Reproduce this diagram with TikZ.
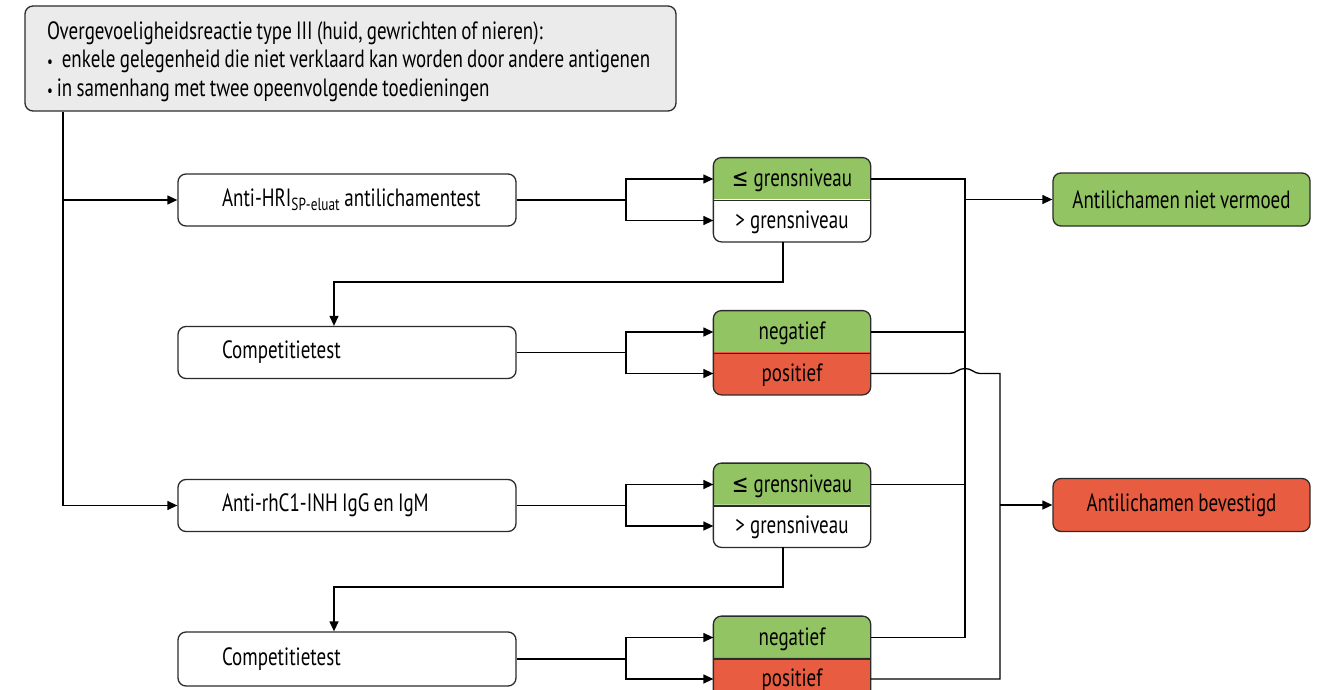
\documentclass[tikz,border=0pt]{standalone}
\usepackage{fontspec}
\setmainfont{PT Sans}[FakeStretch=0.76]
\newfontfamily\symf{DejaVu Sans}[FakeStretch=0.8]
\usetikzlibrary{arrows.meta,calc}
\definecolor{okgreen}{HTML}{92C463}
\definecolor{badred}{HTML}{E85D41}
\definecolor{topgray}{HTML}{EBEBEB}
\definecolor{edge}{HTML}{2B2B2B}
\newcommand{\fs}[2]{\fontsize{#1}{#2}\selectfont\spaceskip=0.17em\relax}
\newcommand{\ws}{\spaceskip=0.17em\relax\xspaceskip=0.2em\relax}
\begin{document}
\begin{tikzpicture}[x=1pt,y=-1pt,
  line width=1.3pt,
  conn/.style={draw=black},
  arr/.style={draw=black,-{Triangle[length=10pt,width=9pt]}},
  mainbox/.style={draw=edge,rounded corners=8pt,minimum height=52pt,text width=250pt,inner xsep=44pt,inner ysep=0pt,align=left,font=\fs{25}{28}},
  part/.style={minimum width=156pt,minimum height=41.5pt,inner sep=0pt,font=\fs{25}{28}},
  parttext/.style={part,yshift=-1.5pt},
  result/.style={draw=edge,rounded corners=8pt,minimum width=257pt,minimum height=53pt,inner sep=0pt,font=\fs{25}{28}}
]
\useasboundingbox (0,0) rectangle (1332,690);
\clip (0,0) rectangle (1332,690);

% top box
\node[draw=edge,fill=topgray,rounded corners=8pt,text width=607pt,inner xsep=22pt,minimum height=105pt,align=left,font=\fs{25}{28.5}] (top) at (350.5,58.5)
 {\ws\mbox{\rule{0pt}{24pt}Overgevoeligheidsreactie type III (huid, gewrichten of nieren):}\\
  \ws\mbox{{\fontsize{17}{20}\selectfont\textbullet}\hspace{9pt}enkele gelegenheid die niet verklaard kan worden door andere antigenen}\\
  \ws\mbox{{\fontsize{17}{20}\selectfont\textbullet}\hspace{4pt}in samenhang met twee opeenvolgende toedieningen}};

% main boxes
\node[mainbox] (b1) at (347,200) {\ws\mbox{Anti-HRI\textsubscript{SP-eluat} antilichamentest}};
\node[mainbox] (b2) at (347,352.5) {\ws Competitietest};
\node[mainbox] (b3) at (347,505.5) {\ws\mbox{Anti-rhC1-INH IgG en IgM}};
\node[mainbox,minimum height=54pt] (b4) at (347,659) {\ws Competitietest};

% split boxes: shapes
\newcommand{\splitbox}[4]{%
  \fill[#3] (#1.south west) [rounded corners=8pt]-- (#1.north west) -- (#1.north east) [sharp corners]-- (#1.south east) -- cycle;
  \fill[#4] (#2.north west) [rounded corners=8pt]-- (#2.south west) -- (#2.south east) [sharp corners]-- (#2.north east) -- cycle;
  \draw[edge] (#1.south west) [rounded corners=8pt]-- (#1.north west) -- (#1.north east) -- (#2.south east) -- (#2.south west) [sharp corners]-- (#1.south west);
  \draw[edge] (#1.south west) -- (#1.south east);
}
\node[part] (s1t) at (792,179) {};
\node[part] (s1b) at (792,220.5) {};
\node[part] (s2t) at (792,332) {};
\node[part] (s2b) at (792,373.5) {};
\node[part] (s3t) at (792,484.5) {};
\node[part] (s3b) at (792,526) {};
\node[part] (s4t) at (792,637.5) {};
\node[part] (s4b) at (792,679) {};
\splitbox{s1t}{s1b}{okgreen}{white}
\splitbox{s2t}{s2b}{okgreen}{badred}
\splitbox{s3t}{s3b}{okgreen}{white}
\splitbox{s4t}{s4b}{okgreen}{badred}
\node[parttext] at (s1t) {{\symf ≤}\hspace{5pt}grensniveau};
\node[parttext] at (s1b) {>\hspace{5pt}grensniveau};
\node[parttext] at (s2t) {negatief};
\node[parttext] at (s2b) {positief};
\node[parttext] at (s3t) {{\symf ≤}\hspace{5pt}grensniveau};
\node[parttext] at (s3b) {>\hspace{5pt}grensniveau};
\node[parttext] at (s4t) {negatief};
\node[parttext] at (s4b) {positief};

% results
\node[result,fill=okgreen] (r1) at (1181.5,199.5) {Antilichamen niet vermoed};
\node[result,fill=badred] (r2) at (1181.5,505) {Antilichamen bevestigd};

% trunk
\coordinate (tA) at (63,505.5);
\draw[conn] (top.south -| tA) -- (tA);
\draw[arr] (b1.west -| tA) -- (b1.west);
\draw[arr] (tA) -- (b3.west);

% forks
\coordinate (fx) at (626,0);
\foreach \b/\t/\u in {b1/s1t/s1b,b2/s2t/s2b,b3/s3t/s3b,b4/s4t/s4b}{
  \draw[conn] (\b.east) -- (\b.east -| fx);
  \draw[arr] (\b.east -| fx) |- (\t.west);
  \draw[arr] (\b.east -| fx) |- (\u.west);
}

% down links
\coordinate (d1) at (783,282);
\coordinate (e1) at (334,282);
\draw[arr] (s1b.south -| d1) -- (d1) -- (e1) -- (b2.north -| e1);
\coordinate (d2) at (783,587);
\coordinate (e2) at (334,587);
\draw[arr] (s3b.south -| d2) -- (d2) -- (e2) -- (b4.north -| e2);

% green collector
\coordinate (gx) at (965,0);
\draw[conn] (s1t.east) -- (s1t.east -| gx) -- (s4t.east -| gx) -- (s4t.east);
\draw[conn] (s2t.east) -- (s2t.east -| gx);
\draw[conn] (s3t.east) -- (s3t.east -| gx);
\draw[arr] (r1.west -| gx) -- (r1.west);

% red collector
\coordinate (hx) at (1000,0);
\draw[conn] (s2b.east) -- ($(s2b.east -| gx)+(-15,0)$)
  .. controls ($(s2b.east -| gx)+(-9,0)$) and ($(s2b.east -| gx)+(-7,-5)$) .. ($(s2b.east -| gx)+(0,-5)$)
  .. controls ($(s2b.east -| gx)+(7,-5)$) and ($(s2b.east -| gx)+(9,0)$) .. ($(s2b.east -| gx)+(15,0)$)
  -- (s2b.east -| hx) -- (s4b.east -| hx) -- (s4b.east);
\draw[arr] (r2.west -| hx) -- (r2.west);
\end{tikzpicture}
\end{document}
